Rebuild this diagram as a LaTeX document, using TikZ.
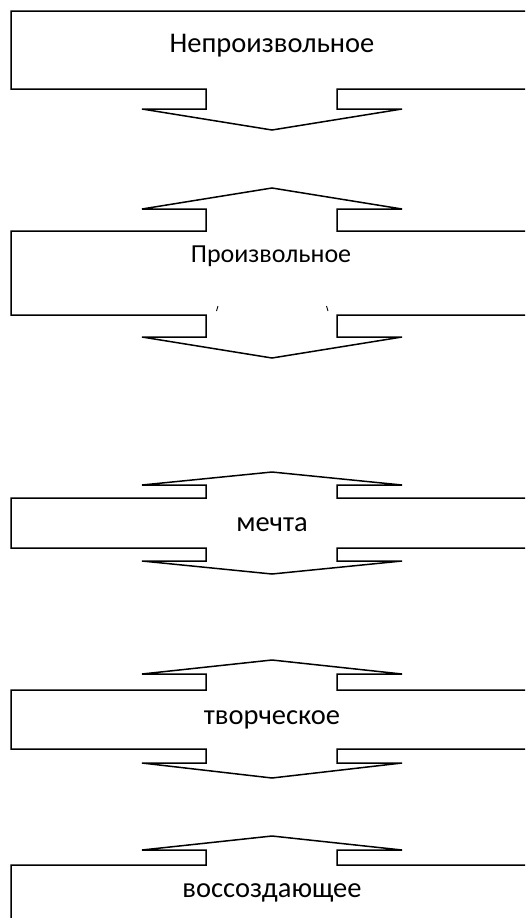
\documentclass[tikz,border=0pt]{standalone}
\usepackage{fontspec}
\setmainfont{Carlito}
\begin{document}
\begin{tikzpicture}[x=1pt,y=-1pt,
  outline/.style={draw=black,line width=1.5pt,line join=miter},
  lbl/.style={anchor=base,inner sep=0pt,text=black},
  big/.style={font=\fontsize{28.5}{32}\selectfont},
  tickmark/.style={draw=black,line width=0.9pt}]
\useasboundingbox (0,0) rectangle (525,918);
\clip (0,0) rectangle (525,918);
% box 1
\draw[outline] (11,11) -- (545,11) -- (545,89) -- (337,89) -- (337,109) -- (402,109) -- (272,130)
  -- (142,109) -- (206,109) -- (206,89) -- (11,89) -- cycle;
\node[lbl,big] (t1) at (272,52) {Непроизвольное};
% box 2
\draw[outline] (11,231) -- (206,231) -- (206,209) -- (142,209) -- (272,188) -- (402,209) -- (337,209)
  -- (337,231) -- (545,231) -- (545,315) -- (337,315) -- (337,337) -- (402,337) -- (272,358)
  -- (142,337) -- (206,337) -- (206,315) -- (11,315) -- cycle;
\node[lbl,font=\fontsize{26}{30}\selectfont] (t2) at (271,262) {Произвольное};
\draw[tickmark] (218,306) -- (216.5,311);
\draw[tickmark] (326.5,306) -- (328,311);
% box 3
\draw[outline] (11,498) -- (206,498) -- (206,485) -- (142,485) -- (272,472) -- (402,485) -- (337,485)
  -- (337,498) -- (545,498) -- (545,548) -- (337,548) -- (337,561) -- (402,561) -- (272,574)
  -- (142,561) -- (206,561) -- (206,548) -- (11,548) -- cycle;
\node[lbl,big] (t3) at (272,531) {мечта};
% box 4
\draw[outline] (11,690) -- (206,690) -- (206,674) -- (142,674) -- (272,660) -- (402,674) -- (337,674)
  -- (337,690) -- (545,690) -- (545,749) -- (337,749) -- (337,763) -- (402,763) -- (272,778)
  -- (142,763) -- (206,763) -- (206,749) -- (11,749) -- cycle;
\node[lbl,big] (t4) at (272,724) {творческое};
% box 5
\draw[outline] (11,865) -- (206,865) -- (206,850) -- (142,850) -- (272,836) -- (402,850) -- (337,850)
  -- (337,865) -- (545,865) -- (545,940) -- (11,940) -- cycle;
\node[lbl,big] (t5) at (272,897) {воссоздающее};
\end{tikzpicture}
\end{document}
